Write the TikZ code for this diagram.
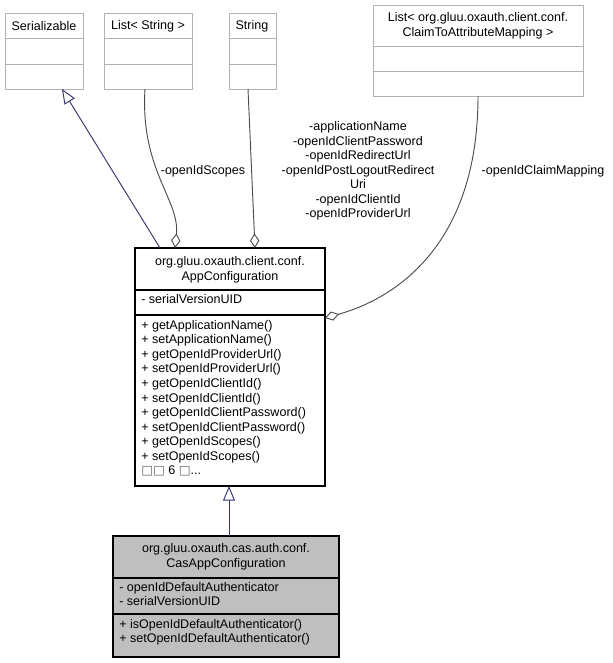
\documentclass[tikz,border=0pt]{standalone}
\usepackage{fontspec}
\setmainfont{Liberation Sans}
\newfontfamily\djv{DejaVu Sans}
\usetikzlibrary{arrows.meta}
\begin{document}
\begin{tikzpicture}[x=0.75pt,y=-0.75pt,
  txt/.style={font=\fontsize{9.4}{10.9}\selectfont,inner sep=0pt,align=center},
  ltxt/.style={font=\fontsize{9.4}{10.9}\selectfont,inner sep=0pt,align=left,anchor=north west},
  lbox/.style={draw=black!30,line width=0.7pt},
  dbox/.style={draw=black,line width=0.8pt},
  inh/.style={draw=blue!30!black!80,line width=0.7pt,-{Triangle[open,length=11pt,width=9pt]}},
  agg/.style={draw=black!70,line width=0.7pt,-{Diamond[open,length=11pt,width=7pt]}}]
\useasboundingbox (0,0) rectangle (613,663);
% Serializable
\draw[lbox] (5,13) rectangle (83,89); \draw[lbox] (5,38)--(83,38); \draw[lbox] (5,64)--(83,64);
\node[txt] (ser) at (44,26) {Serializable};
\coordinate (serb) at (62,89);
% List<String>
\draw[lbox] (104,13) rectangle (192,89); \draw[lbox] (104,38)--(192,38); \draw[lbox] (104,64)--(192,64);
\node[txt] (ls) at (148,26) {List< String >};
\coordinate (lsb) at (145,89);
% String
\draw[lbox] (229,13) rectangle (276,89); \draw[lbox] (229,38)--(276,38); \draw[lbox] (229,64)--(276,64);
\node[txt] (st) at (252,26) {String};
\coordinate (stb) at (248,89);
% List<Claim>
\draw[lbox] (373,5) rectangle (583,96); \draw[lbox] (373,46)--(583,46); \draw[lbox] (373,71)--(583,71);
\node[txt] (lc) at (478,26) {List< org.gluu.oxauth.client.conf.\\ClaimToAttributeMapping >};
\coordinate (lcb) at (478,96);
% AppConfiguration
\draw[dbox,fill=white] (135,248) rectangle (325,486); \draw[dbox] (135,290)--(325,290); \draw[dbox] (135,315)--(325,315);
\node[txt] (app) at (230,270) {org.gluu.oxauth.client.conf.\\AppConfiguration};
\node[ltxt] (appa) at (141,294) {- serialVersionUID};
\node[ltxt] (appm) at (141,320) {+ getApplicationName()\\+ setApplicationName()\\+ getOpenIdProviderUrl()\\+ setOpenIdProviderUrl()\\+ getOpenIdClientId()\\+ setOpenIdClientId()\\+ getOpenIdClientPassword()\\+ setOpenIdClientPassword()\\+ getOpenIdScopes()\\+ setOpenIdScopes()\\{\djv\textcolor{black!60}{□□}} 6 {\djv\textcolor{black!60}{□}}...};
\coordinate (appt1) at (160,248);
\coordinate (appt2) at (175,248);
\coordinate (appt3) at (255,248);
\coordinate (appr) at (325,318);
\coordinate (appb) at (229,486);
% CasAppConfiguration
\draw[dbox,fill=black!25] (113,536) rectangle (339,657); \draw[dbox] (113,578)--(339,578); \draw[dbox] (113,614)--(339,614);
\node[txt] (cas) at (226,557) {org.gluu.oxauth.cas.auth.conf.\\CasAppConfiguration};
\node[ltxt] (casa) at (119,582) {- openIdDefaultAuthenticator\\- serialVersionUID};
\node[ltxt] (casm) at (119,619) {+ isOpenIdDefaultAuthenticator()\\+ setOpenIdDefaultAuthenticator()};
\coordinate (cast) at (229,536);
% edges
\draw[inh] (appt1) -- (serb);
\draw[inh] (cast) -- (appb);
\draw[agg] (lsb) .. controls (140,170) and (180,200) .. (appt2);
\draw[agg] (stb) -- (appt3);
\draw[agg] (lcb) .. controls (478,250) and (390,300) .. (appr);
% labels
\node[txt] (l1) at (203,171) {-openIdScopes};
\node[txt] (l2) at (358,171) {-applicationName\\-openIdClientPassword\\-openIdRedirectUrl\\-openIdPostLogoutRedirect\\Uri\\-openIdClientId\\-openIdProviderUrl};
\node[txt] (l3) at (543,171) {-openIdClaimMapping};
\end{tikzpicture}
\end{document}
